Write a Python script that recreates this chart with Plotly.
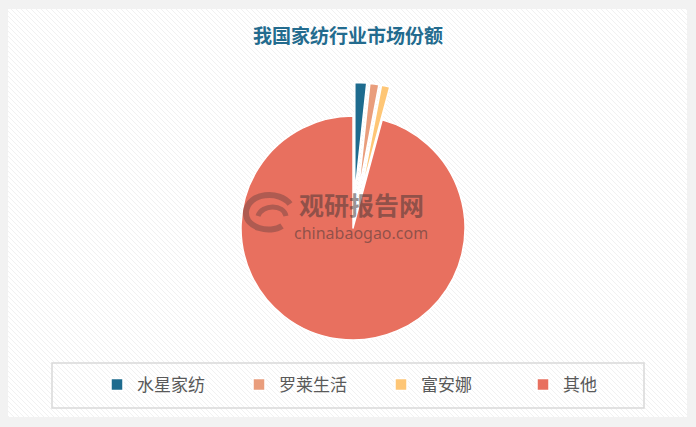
import plotly.graph_objects as go

# ---- data ----
labels = ["水星家纺", "罗莱生活", "富安娜", "其他"]
values = [1.7, 1.3, 1.2, 95.8]
colors = ["#1e6b8e", "#e99d7c", "#fec676", "#e8705f"]
pulls = [0.3, 0.3, 0.3, 0.0]
title_text = "我国家纺行业市场份额"

W, H = 696, 427

def px(x):
    return x / W

def py(y):
    return 1 - y / H

# background stripes (decorative)
x0b, x1b, y0b, y1b = 8, 687, 9, 417
segs = []
c = -(y1b - y0b)
while c < x1b:
    xs = max(x0b, y0b + c)
    xe = min(x1b, y1b + c)
    if xs < xe:
        segs.append(f"M{px(xs):.5f},{py(xs - c):.5f}L{px(xe):.5f},{py(xe - c):.5f}")
    c += 5
stripe_path = "".join(segs)

fig = go.Figure()
cx, cy, r = 353, 228, 112
half = r * (1 + max(pulls))
fig.add_trace(go.Pie(
    labels=labels,
    values=values,
    marker=dict(colors=colors, line=dict(color="white", width=1.5)),
    pull=pulls,
    sort=False,
    direction="clockwise",
    rotation=0,
    textinfo="none",
    hoverinfo="label+percent",
    domain=dict(x=[px(cx - half), px(cx + half)], y=[py(cy + half), py(cy - half)]),
))

# watermark logo (decorative swirl)
wm = "rgba(90,60,60,0.40)"
shapes = [
    dict(type="rect", xref="paper", yref="paper", x0=px(x0b), x1=px(x1b), y0=py(y1b), y1=py(y0b),
         fillcolor="white", line=dict(width=0), layer="below"),
    dict(type="path", xref="paper", yref="paper", path=stripe_path,
         line=dict(color="#f1f1f1", width=1), layer="below"),
    dict(type="rect", xref="paper", yref="paper", x0=px(52), x1=px(644), y0=py(408), y1=py(363),
         line=dict(color="#d9d9d9", width=1.5), fillcolor="rgba(0,0,0,0)", layer="below"),
    dict(type="path", xref="paper", yref="paper",
         path=(f"M{px(290):.5f},{py(204):.5f} C{px(280):.5f},{py(190):.5f} {px(248):.5f},{py(192):.5f} "
               f"{px(246):.5f},{py(212):.5f} C{px(245):.5f},{py(228):.5f} {px(270):.5f},{py(234):.5f} {px(282):.5f},{py(226):.5f}"),
         line=dict(color=wm, width=6), layer="above"),
    dict(type="path", xref="paper", yref="paper",
         path=(f"M{px(258):.5f},{py(216):.5f} C{px(262):.5f},{py(204):.5f} {px(284):.5f},{py(204):.5f} "
               f"{px(286):.5f},{py(216):.5f}"),
         line=dict(color=wm, width=5), layer="above"),
]

annotations = [
    dict(text="<b>观研报告网</b>", x=px(362), y=py(204), xref="paper", yref="paper",
         showarrow=False, font=dict(family="Noto Sans CJK SC", size=25, color="rgba(70,55,55,0.55)")),
    dict(text="chinabaogao.com", x=px(361), y=py(233), xref="paper", yref="paper",
         showarrow=False, font=dict(family="Noto Sans", size=16, color="rgba(70,55,55,0.55)")),
]

fig.update_layout(
    width=W, height=H,
    margin=dict(l=0, r=0, t=0, b=0),
    paper_bgcolor="#f2f2f2",
    plot_bgcolor="rgba(0,0,0,0)",
    title=dict(text="<b>" + title_text + "</b>", x=px(348), xanchor="center", y=py(36), yanchor="middle",
               font=dict(family="Noto Sans CJK SC", size=19, color="#236b8e")),
    showlegend=True,
    legend=dict(orientation="h", x=px(97), xanchor="left", y=py(385), yanchor="middle",
                entrywidth=97, entrywidthmode="pixels",
                font=dict(family="Noto Sans CJK SC", size=17, color="#595959"),
                bgcolor="rgba(0,0,0,0)"),
    shapes=shapes,
    annotations=annotations,
)

fig.write_html("out.html", config={"displayModeBar": False},
               post_script="document.body.style.margin='0';document.body.style.overflow='hidden';")
